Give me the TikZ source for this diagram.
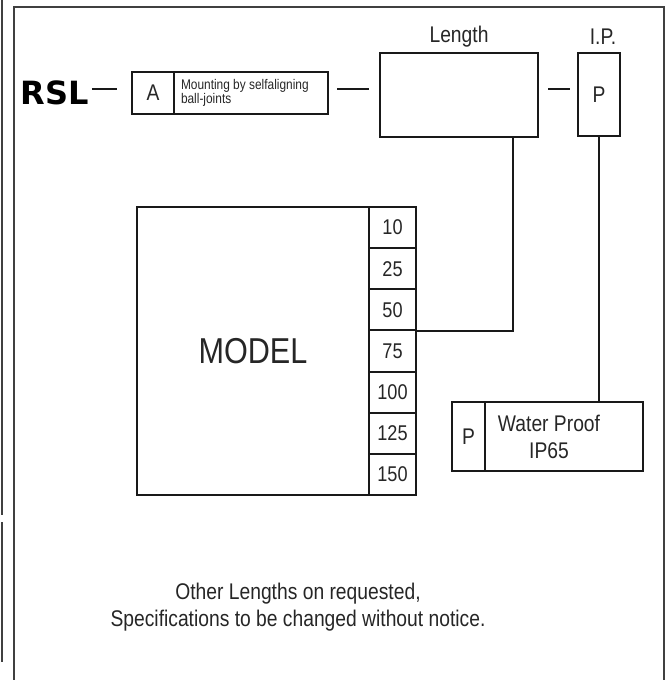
\documentclass[tikz,border=0pt]{standalone}
\usepackage{fontspec}
\newfontfamily\nf{Liberation Sans}[FakeStretch=0.85]
\newfontfamily\rslfont{DejaVu Sans}
\begin{document}
\begin{tikzpicture}[x=0.75pt,y=-0.75pt,
  frame/.style={draw=black!75,line width=2pt},
  box/.style={draw=black!90,line width=1.5pt,inner sep=0pt,font=\nf\fontsize{17}{20}\selectfont,text=black!85},
  conn/.style={draw=black!90,line width=1.5pt},
  lbl/.style={font=\nf\fontsize{17}{20}\selectfont,text=black!85,inner sep=0pt}]
\useasboundingbox (0,0) rectangle (668,680);
% frame
\draw[frame] (14,680) -- (14,7) -- (664,7) -- (664,680);
\draw[frame] (2,0) -- (2,515);
\draw[frame] (2,522) -- (2,662);
% top row
\node[font=\rslfont\bfseries\fontsize{24}{28}\selectfont,inner sep=0pt] (rsl) at (55,93) {RSL};
\node[box,minimum width=31.5pt,minimum height=31.5pt] (acell) at (153,93) {A};
\node[box,minimum width=115.5pt,minimum height=31.5pt,align=left,
      font=\nf\fontsize{10.5}{11}\selectfont] (atext) at (251,93)
      {\makebox[105pt][l]{Mounting by selfaligning}\\\makebox[105pt][l]{ball-joints}};
\node[box,minimum width=118.5pt,minimum height=63pt] (lenbox) at (459,95) {};
\node[box,minimum width=31.5pt,minimum height=62.25pt] (ipbox) at (599,94.5) {P};
\node[lbl] (lenlbl) at (459,37) {Length};
\node[lbl] (iplbl) at (603,37) {I.P.};
\draw[conn,shorten <=2pt,shorten >=10.5pt] ([yshift=3pt]rsl.east) -- ([yshift=3pt]rsl.east -| acell.west);
\draw[conn,shorten <=6pt,shorten >=7.5pt] ([yshift=3pt]atext.east) -- ([yshift=3pt]atext.east -| lenbox.west);
\draw[conn,shorten <=6.75pt,shorten >=5.25pt] ([yshift=3pt]atext.east -| lenbox.east) -- ([yshift=3pt]atext.east -| ipbox.west);
% model block
\node[box,minimum width=174pt,minimum height=216pt,font=\nf\fontsize{27}{30}\selectfont] (model) at (253,351) {MODEL};
\foreach \v [count=\i from 0] in {10,25,50,75,100,125,150}{
  \node[box,minimum width=35.25pt,minimum height=30.86pt,font=\nf\fontsize{16}{18}\selectfont]
    (c\v) at (392.5,{207+41.14*(\i+0.5)}) {\v};
}
% water proof
\node[box,minimum width=24.75pt,minimum height=51.75pt] (pcell) at (468.5,436.5) {P};
\node[box,minimum width=118.5pt,minimum height=51.75pt] (wp) at (564,436.5) {};
\node[lbl,align=center] (wptext) at (549,437) {Water Proof\\IP65};
% connectors
\draw[conn] ([xshift=40.5pt]lenbox.south) |- (c50.south east);
\draw[conn] (ipbox.south) -- (ipbox.south |- wp.north);
% note
\node[lbl,align=center] (note) at (298,607) {Other Lengths on requested,\\Specifications to be changed without notice.};
\end{tikzpicture}
\end{document}
